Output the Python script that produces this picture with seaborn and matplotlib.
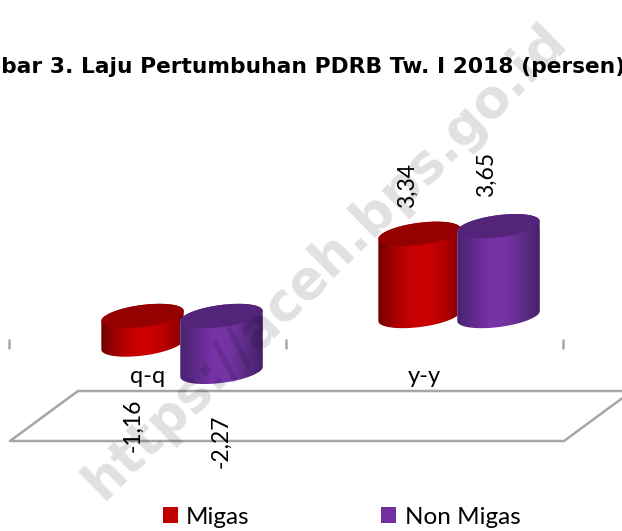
import numpy as np
import pandas as pd
import matplotlib
matplotlib.use("Agg")
import matplotlib.pyplot as plt
from matplotlib.colors import LinearSegmentedColormap
from matplotlib.patches import Patch, Polygon
import seaborn as sns

periods = ["q-q", "y-y"]
migas = [-1.16, 3.34]
non_migas = [-2.27, 3.65]
value_labels = ["-1,16", "3,34", "-2,27", "3,65"]
series_names = ["Migas", "Non Migas"]
title_text = "Gambar 3. Laju Pertumbuhan PDRB Tw. I 2018 (persen)"
watermark_text = "https://aceh.bps.go.id"

W, H = 622, 531
PX_X, PX_Y = 277.0, 24.6      # pixels per category / per unit
X0, Y0 = 182.0, 316.0         # pixel position of first category / of zero

sns.set_theme(style="white")
plt.rcParams["font.family"] = ["Lato", "DejaVu Sans"]

fig = plt.figure(figsize=(W / 100, H / 100), dpi=100)
ax = fig.add_axes([0, 0, 1, 1])

df = pd.DataFrame({
    "period": periods * 2,
    "value": migas + non_migas,
    "series": [series_names[0]] * 2 + [series_names[1]] * 2,
})
sns.barplot(data=df, x="period", y="value", hue="series", order=periods,
            hue_order=series_names, palette=["#C00000", "#7030A0"],
            width=0.57, saturation=1, legend=False, ax=ax)

ax.set_xlabel("")
ax.set_ylabel("")
ax.set_yticks([])
ax.patch.set_alpha(0)
for s in ax.spines.values():
    s.set_visible(False)


def dx(px):
    return px / PX_X


def dy(px):
    return px / PX_Y


def pxy(x, y):
    return (x - X0) / PX_X, (Y0 - y) / PX_Y


A, B, TILT = 41.5, 11.0, np.deg2rad(7.5)


def ell(cx, cy, t):
    ex = A * np.cos(t) * np.cos(TILT) - B * np.sin(t) * np.sin(TILT)
    ey = A * np.cos(t) * np.sin(TILT) + B * np.sin(t) * np.cos(TILT)
    return cx + dx(ex), cy + dy(ey)


t0 = np.arctan2(-B * np.sin(TILT), A * np.cos(TILT))
upper = np.linspace(t0, t0 + np.pi, 80)
lower = np.linspace(t0 + np.pi, t0 + 2 * np.pi, 80)
full = np.linspace(0, 2 * np.pi, 160)

ramps = [
    (["#700000", "#a80000", "#c80000", "#cc0000", "#b00000", "#800000"], "#950000"),
    (["#47226e", "#5f2a8c", "#7733a6", "#7433a4", "#5c2b85", "#45216a"], "#54247A"),
]
bars = list(ax.patches)
grad = np.linspace(0, 1, 256).reshape(1, -1)
for i, bar in enumerate(bars):
    ramp, cap = ramps[i // 2]
    cx = bar.get_x() + bar.get_width() / 2
    bar.set_x(cx - dx(41.5))
    bar.set_width(dx(83))
    v = bar.get_height()
    z = 3 + i // 2 * 2 + (i % 2) * 0.1
    top_y, bot_y = (v, 0) if v > 0 else (0, v)
    xb, yb = ell(cx, bot_y, lower)
    xt, yt = ell(cx, top_y, upper)
    outline = np.vstack([np.c_[xb, yb], np.c_[xt, yt]])
    body = Polygon(outline, closed=True, transform=ax.transData)
    bar.set_zorder(z)
    bar.set_clip_path(body)
    im = ax.imshow(grad, extent=(cx - dx(42), cx + dx(42), bot_y - dy(14), top_y + dy(14)),
                   cmap=LinearSegmentedColormap.from_list("c", ramp), aspect="auto",
                   zorder=z + 0.1, interpolation="bilinear")
    im.set_clip_path(body)
    xc, yc = ell(cx, top_y, full)
    ax.fill(xc, yc, color=cap, lw=0, zorder=z + 0.2)

ax.set_xlim(-X0 / PX_X, (W - X0) / PX_X)
ax.set_ylim(-(H - Y0) / PX_Y, Y0 / PX_Y)

# value labels
offsets = [(-9.5, 81), (-12, -48), (-0.5, 69), (-12.5, -52)]
for bar, txt, (ox, oy) in zip(bars, value_labels, offsets):
    v = bar.get_height()
    cx = bar.get_x() + bar.get_width() / 2
    ax.annotate(txt, (cx, v), xytext=(ox * 0.72, -oy * 0.72), textcoords="offset points",
                rotation=90, ha="center", va="center", fontsize=16.5, color="black", zorder=8)

# category axis: boundary ticks and shifted category labels
axis_y = (Y0 - 344) / PX_Y
ax.spines["bottom"].set_position(("data", axis_y))
ax.set_xticks([(9 - X0) / PX_X, (286 - X0) / PX_X, (563 - X0) / PX_X])
ax.set_xticklabels([])
ax.tick_params(axis="x", which="major", direction="inout", length=7, width=1.8,
               color="#a6a6a6", bottom=True)
ax.set_xticks([(147.5 - X0) / PX_X, (424.5 - X0) / PX_X], labels=periods, minor=True)
ax.tick_params(axis="x", which="minor", length=0, pad=16, labelsize=17, labelcolor="black")

# floor
fx = [78, 632, 564, 10, 78]
fy = [391, 391, 441, 441, 391]
floor = np.array([pxy(a, b) for a, b in zip(fx, fy)])
ax.plot(floor[:, 0], floor[:, 1], color="#a6a6a6", lw=1.8, zorder=1, clip_on=True)

# title
fig.text(625 / W, 1 - 67 / H, title_text, ha="right", va="center", fontsize=15.7,
         fontweight="bold", family="DejaVu Sans", color="black", zorder=9)

# legend
handles = [Patch(color="#C00000", lw=0), Patch(color="#7030A0", lw=0)]
ax.legend(handles, series_names, loc="center", bbox_to_anchor=(341.5 / W, 1 - 517 / H),
          ncol=2, frameon=False, fontsize=17.5, handlelength=0.62, handleheight=0.62,
          handletextpad=0.35, columnspacing=5.4, labelcolor="black")

# watermark
fig.text(325 / W, 1 - 262 / H, watermark_text, rotation=44.5, ha="center", va="center",
         rotation_mode="anchor", fontsize=38, fontweight="bold", family="DejaVu Sans",
         color="black", alpha=0.12, zorder=10)

fig.savefig("out.png", dpi=100)
